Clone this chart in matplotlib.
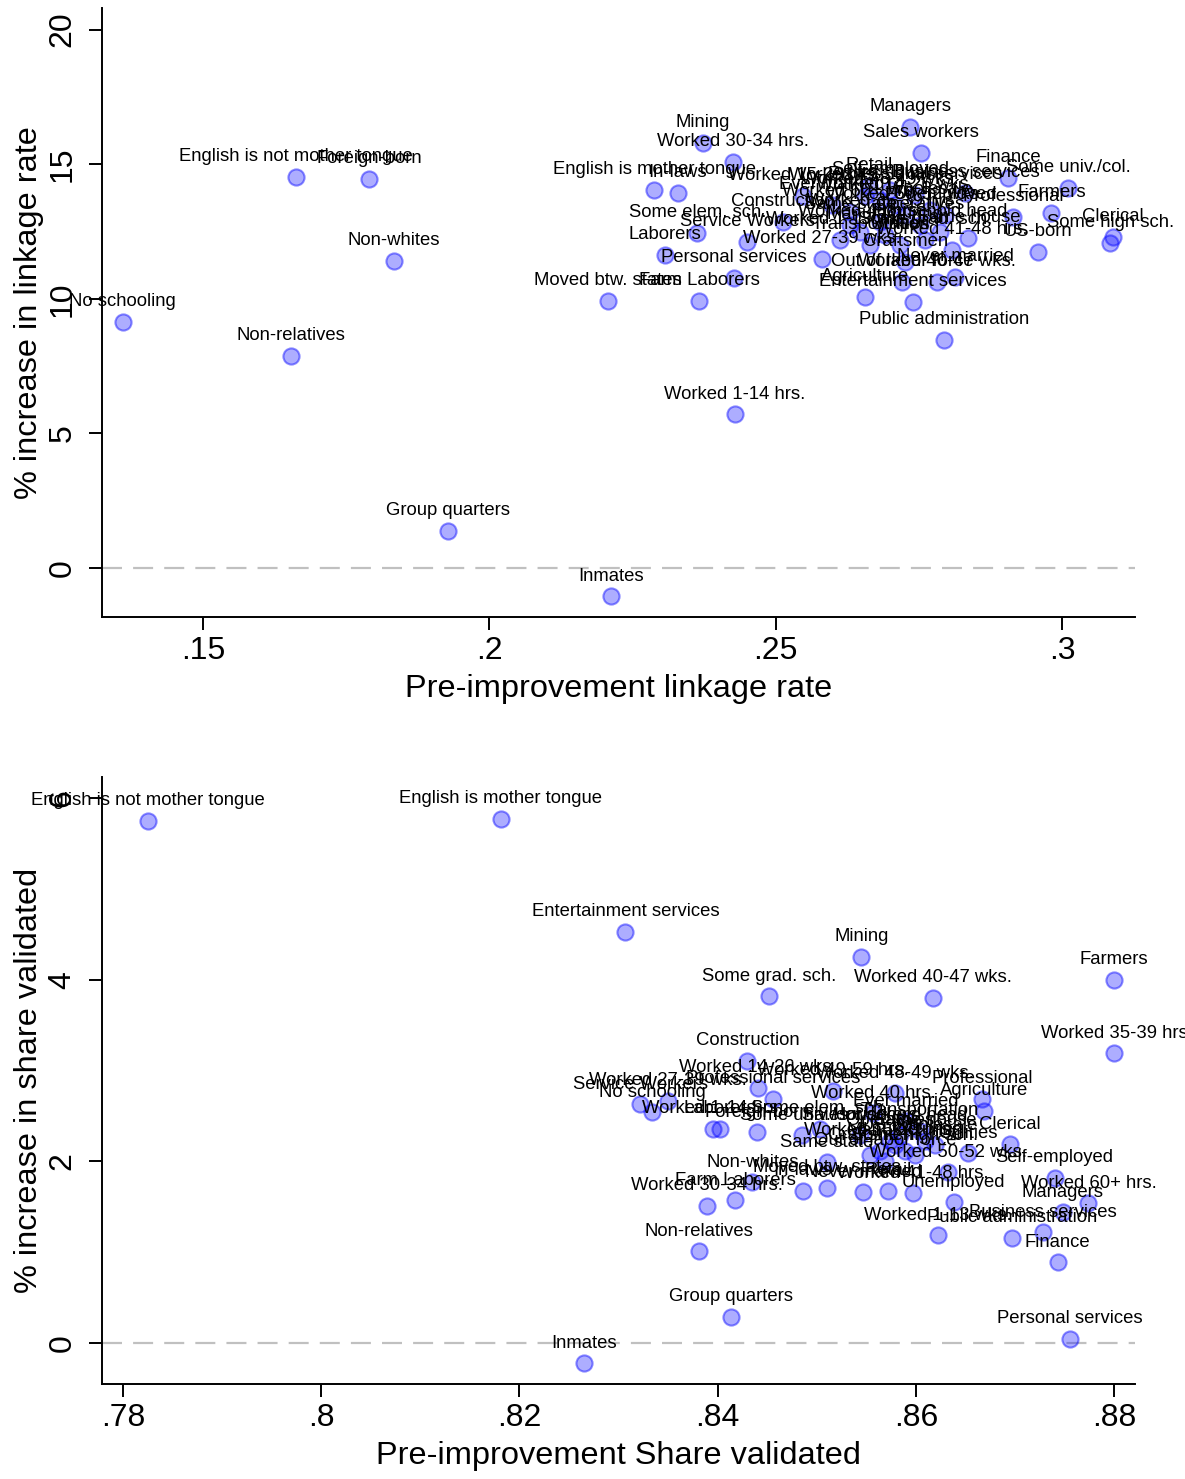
import matplotlib
matplotlib.use("Agg")
import matplotlib.pyplot as plt
from matplotlib.ticker import FuncFormatter

plt.rcParams['font.family'] = ['Liberation Sans', 'DejaVu Sans']

# category names (same groups in both panels)
groups = ["No schooling", "Non-relatives", "English is not mother tongue", "Foreign-born",
          "Non-whites", "Group quarters", "Inmates", "Moved btw. states", "Farm Laborers",
          "Mining", "Worked 30-34 hrs.", "English is mother tongue", "In-laws",
          "Some elem. sch.", "Laborers", "Service Workers", "Personal services",
          "Worked 1-14 hrs.", "Worked 27-39 wks.", "Construction", "Worked 15-29 hrs.",
          "Ever married", "Retail", "Business services", "Finance", "Some univ./col.",
          "Farmers", "Professional", "Clerical", "Some high sch.", "US-born",
          "Worked 41-48 hrs.", "Same house", "Household head", "Craftsmen",
          "Never married", "Out of labor force", "Worked 40-47 wks.", "Agriculture",
          "Entertainment services", "Public administration", "Managers", "Sales workers",
          "Worked 49-59 hrs.", "Worked 48-49 wks.", "Worked 50-52 wks.", "Worked 35-39 hrs",
          "Worked 40 hrs.", "Worked 60+ hrs.", "Worked 1-13 wks.", "Worked 14-26 wks.",
          "Operatives", "Manufacturing", "Transportation", "Wholesale", "Utilities",
          "Professional services", "Same state", "Unemployed", "Self-employed",
          "Some grad. sch."]

# panel 1: linkage rate
link_pre = [0.1360, 0.1654, 0.1662, 0.1790, 0.1833, 0.1928, 0.2212, 0.2207, 0.2366,
            0.2373, 0.2425, 0.2288, 0.2329, 0.2363, 0.2307, 0.2450, 0.2427, 0.2429,
            0.2581, 0.2513, 0.2548, 0.2598, 0.2663, 0.2831, 0.2906, 0.3010, 0.2981,
            0.2914, 0.3089, 0.3084, 0.2958, 0.2808, 0.2836, 0.2787, 0.2726, 0.2813,
            0.2721, 0.2782, 0.2656, 0.2740, 0.2794, 0.2735, 0.2754, 0.2656, 0.2682,
            0.2726, 0.2682, 0.2647, 0.2630, 0.2612, 0.2708, 0.2752, 0.2691, 0.2665,
            0.2769, 0.2717, 0.2743, 0.2630, 0.2796, 0.2700, 0.2761]
link_inc = [9.14, 7.88, 14.54, 14.46, 11.41, 1.38, -1.04, 9.93, 9.93,
            15.80, 15.09, 14.05, 13.94, 12.45, 11.64, 12.12, 10.78, 5.72,
            11.49, 12.86, 13.83, 13.49, 14.20, 13.94, 14.50, 14.13, 13.20,
            13.05, 12.30, 12.08, 11.75, 11.82, 12.27, 12.49, 11.38, 10.82,
            10.63, 10.63, 10.07, 9.89, 8.48, 16.39, 15.43, 13.83, 13.68,
            13.12, 12.86, 12.49, 13.23, 12.19, 13.49, 12.75, 12.38, 12.01,
            13.31, 12.01, 13.87, 12.75, 13.12, 14.05, 12.19]

# panel 2: share validated
val_pre = [0.8334, 0.8381, 0.7825, 0.8440, 0.8435, 0.8413, 0.8265, 0.8510, 0.8418,
           0.8545, 0.8389, 0.8181, 0.8486, 0.8503, 0.8402, 0.8322, 0.8755, 0.8395,
           0.8350, 0.8430, 0.8564, 0.8590, 0.8572, 0.8728, 0.8743, 0.8485, 0.8800,
           0.8667, 0.8695, 0.8599, 0.8579, 0.8597, 0.8609, 0.8584, 0.8554, 0.8547,
           0.8569, 0.8617, 0.8669, 0.8307, 0.8697, 0.8748, 0.8544, 0.8516, 0.8579,
           0.8632, 0.8800, 0.8557, 0.8774, 0.8622, 0.8441, 0.8574, 0.8589, 0.8604,
           0.8619, 0.8653, 0.8456, 0.8510, 0.8638, 0.8740, 0.8452]
val_inc = [2.54, 1.01, 5.75, 2.32, 1.77, 0.29, -0.22, 1.71, 1.57,
           4.25, 1.51, 5.77, 1.68, 2.36, 2.36, 2.63, 0.05, 2.36,
           2.67, 3.11, 2.12, 2.44, 1.68, 1.22, 0.89, 2.29, 4.00,
           2.69, 2.19, 2.07, 2.18, 1.65, 2.23, 2.29, 2.07, 1.66,
           2.01, 3.80, 2.56, 4.53, 1.16, 1.44, 2.29, 2.78, 2.75,
           1.88, 3.19, 2.53, 1.54, 1.19, 2.81, 2.23, 2.12, 2.34,
           2.18, 2.09, 2.69, 1.99, 1.55, 1.82, 3.82]

link_xticks = [0.15, 0.2, 0.25, 0.3]
link_yticks = [0, 5, 10, 15, 20]
val_xticks = [0.78, 0.8, 0.82, 0.84, 0.86, 0.88]
val_yticks = [0, 2, 4, 6]


def nozero(v, pos):
    s = ('%g' % v)
    return s[1:] if s.startswith('0.') else s


def panel(ax, xs, ys, xlab, ylab, xt, yt, xlim, ylim):
    ax.axhline(0, color='#c0c0c0', lw=1.6, ls=(0, (9, 5)), zorder=1)
    ax.scatter(xs, ys, s=135, facecolor=(0, 0, 1, 0.32), edgecolor=(0, 0, 1, 0.45),
               linewidth=1.5, zorder=3)
    for name, x, y in zip(groups, xs, ys):
        ax.annotate(name, (x, y), xytext=(0, 14.4), textcoords='offset points',
                    ha='center', va='center', fontsize=13.3, color='black',
                    annotation_clip=False, zorder=4)
    ax.set_xlim(*xlim)
    ax.set_ylim(*ylim)
    ax.set_xticks(xt)
    ax.set_yticks(yt)
    ax.xaxis.set_major_formatter(FuncFormatter(nozero))
    ax.yaxis.set_major_formatter(FuncFormatter(nozero))
    for side in ['top', 'right']:
        ax.spines[side].set_visible(False)
    for side in ['left', 'bottom']:
        ax.spines[side].set_linewidth(1.4)
    ax.tick_params(axis='both', direction='out', length=9.5, width=1.4, labelsize=23)
    ax.tick_params(axis='x', pad=4)
    ax.tick_params(axis='y', pad=8)
    for lab in ax.get_yticklabels():
        lab.set_rotation(90)
        lab.set_va('center')
    ax.set_xlabel(xlab, fontsize=23.4, labelpad=6)
    ax.set_ylabel(ylab, fontsize=23.4, labelpad=3)


fig = plt.figure(figsize=(11.85, 14.79), dpi=100)
ax1 = fig.add_axes([0.0861, 0.5828, 0.8717, 0.4118])
ax2 = fig.add_axes([0.0861, 0.0642, 0.8717, 0.4104])

panel(ax1, link_pre, link_inc, 'Pre-improvement linkage rate', '% increase in linkage rate',
      link_xticks, link_yticks, (0.1324, 0.3127), (-1.82, 20.8))
panel(ax2, val_pre, val_inc, 'Pre-improvement Share validated', '% increase in share validated',
      val_xticks, val_yticks, (0.7779, 0.8821), (-0.45, 6.23))

fig.savefig('out.png', dpi=100)
